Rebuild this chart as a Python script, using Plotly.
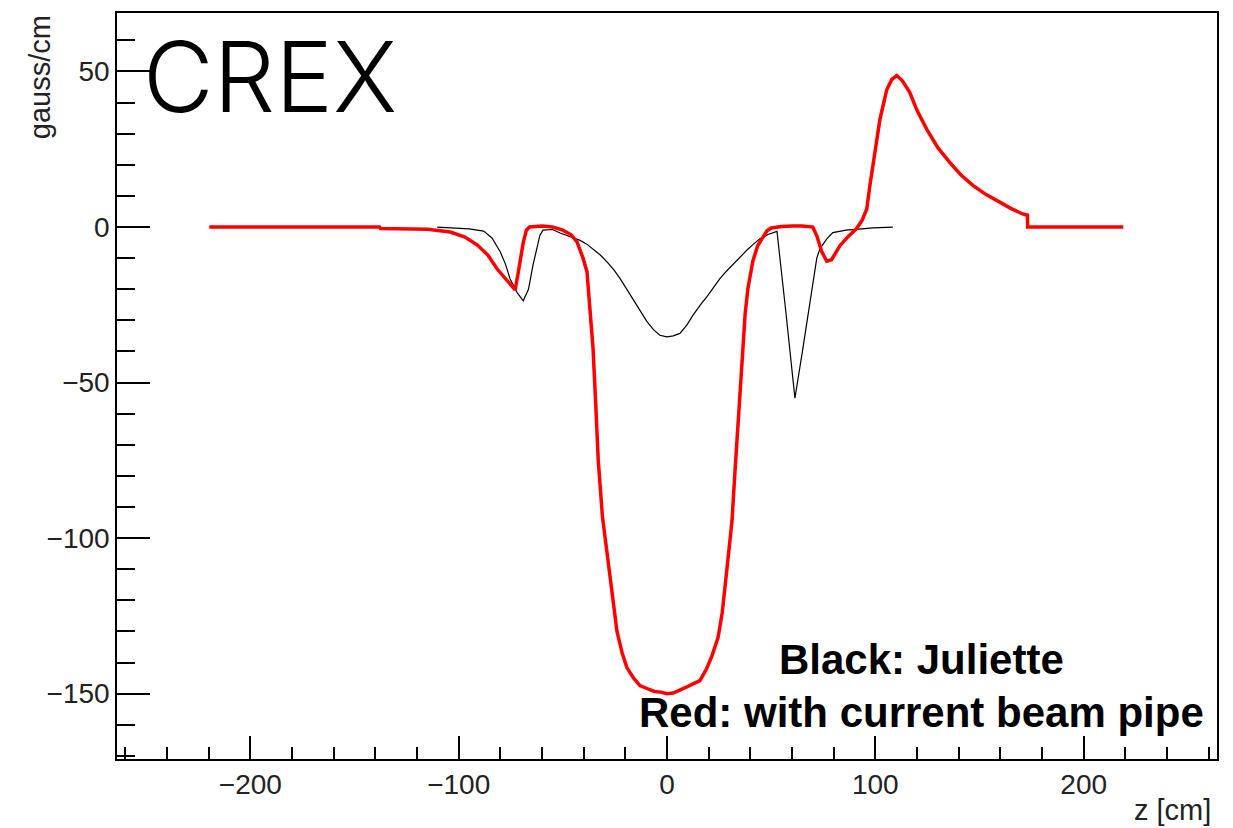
import plotly.graph_objects as go

# Red: with current beam pipe
red_z = [-219.7, -138, -137.5, -125, -115, -104, -97, -91, -86, -81.5, -77, -72.9, -71.5, -70, -69, -67.5, -66,
         -60, -55, -50, -46, -43.2, -40.3, -38.4, -37, -35.5, -34.2, -33, -31, -28.8, -26.5, -24, -21.5, -19.2,
         -16, -13, -9, -6, -3, 0, 3, 6, 9, 12, 15.8, 19, 21.5, 24.5, 26.5, 27.8, 29.5, 31.2, 32.5, 33.6, 35, 36,
         37.5, 38.8, 41.2, 43.5, 45.6, 48, 50, 55, 60, 65, 70, 72, 74.3, 76.7, 79, 83, 87, 91, 93.5, 95.9, 97.4,
         99.8, 102.2, 105.5, 108, 110.3, 113, 116.5, 120, 124.7, 130, 135.7, 141, 146.8, 153, 159.7, 165, 170.7,
         173, 173.1, 219]
red_b = [0, 0, -0.5, -0.5, -0.7, -1.6, -3.2, -5.8, -9, -13.5, -17, -20.2, -15, -9, -5, -1, 0,
         0.3, 0, -1, -2.5, -4.8, -10, -14.4, -25, -39, -57, -75, -93, -105, -117, -130, -137, -141.7,
         -145, -147.4, -148.5, -149.3, -149.5, -150, -149.8, -149, -148, -147, -145.8, -142, -138, -132, -124, -116,
         -106, -94.5, -80, -68, -52, -41, -28, -19.9, -11, -6, -3.8, -1.2, -0.3, 0.2, 0.3, 0.3, 0, -3, -8, -11,
         -10.5, -6, -3, -0.5, 2, 5.8, 13.4, 24, 34.6, 44.2, 47.5, 48.7, 47, 43.3, 37.5, 31.4, 25.5, 20.8, 16.8,
         13.4, 10.5, 8, 6, 4.2, 3.8, 0, 0]

# Black: Juliette
black_z = [-110.3, -100, -95, -88, -84, -80, -77.5, -75.3, -72, -69, -66.5, -64.3, -62.5, -61, -59.5, -55,
           -51.3, -48, -45, -41.7, -38.5, -35.5, -32, -28.8, -25.5, -22.5, -19.5, -16.3, -13, -9.6, -6.5, -3.4,
           0, 3, 6.2, 9.5, 12.5, 16, 19.2, 22.3, 25.4, 28.5, 31.7, 35, 38.4, 41.5, 44.6, 48.5, 52.8, 57, 61.4,
           65, 68.6, 71.9, 73.4, 76.7, 79.6, 81.5, 86, 92, 98.8, 108.4]
black_b = [0, -0.3, -0.6, -1.3, -3.5, -8, -12, -16.7, -21, -23.7, -20, -12.2, -6.5, -2.6, -1, -0.8,
           -1.9, -2.8, -3.5, -4.3, -5.5, -7, -9, -11.2, -13.8, -16.6, -19.8, -23, -26.8, -30.4, -33, -34.8,
           -35.3, -35, -34.2, -31.5, -28.3, -25, -22.4, -19.5, -16.6, -14.2, -11.9, -9.5, -7.4, -5.5, -3.8, -2.4,
           -1.4, -27, -55, -40, -25, -10, -7, -3.8, -1.8, -1.5, -1, -0.7, -0.3, 0]

x_ticks = [-200, -100, 0, 100, 200]
y_ticks = [-150, -100, -50, 0, 50]

FONT = "Liberation Sans, Arial, sans-serif"

fig = go.Figure()
fig.add_trace(go.Scatter(x=black_z, y=black_b, mode="lines",
                         line=dict(color="black", width=1.2), name="Juliette"))
fig.add_trace(go.Scatter(x=red_z, y=red_b, mode="lines",
                         line=dict(color="#ff0000", width=3.5), name="current beam pipe"))

# page body has an 8px margin, so the figure is sized/offset to compensate
fig.update_layout(
    width=1225, height=820,
    margin=dict(l=109, r=16, t=3, b=69),
    paper_bgcolor="white", plot_bgcolor="white",
    showlegend=False,
    font=dict(family=FONT, size=28, color="black"),
)
fig.update_xaxes(
    range=[-264, 264], tickvals=x_ticks, ticks="inside", ticklen=23, tickwidth=1.5,
    tickcolor="black", showline=True, linecolor="black", linewidth=1.5, mirror=True,
    showgrid=False, zeroline=False, tickfont=dict(size=28, color="#222"),
    minor=dict(ticks="inside", ticklen=12, dtick=20, tick0=0, tickcolor="black", tickwidth=1.5, showgrid=False),
)
fig.update_yaxes(
    range=[-171, 68.8], tickvals=y_ticks, ticks="inside", ticklen=33, tickwidth=1.5,
    tickcolor="black", showline=True, linecolor="black", linewidth=1.5, mirror=True,
    showgrid=False, zeroline=False, tickfont=dict(size=28, color="#222"),
    minor=dict(ticks="inside", ticklen=18, dtick=10, tick0=0, tickcolor="black", tickwidth=1.5, showgrid=False),
)

fig.add_annotation(text="gauss/cm", xref="paper", yref="paper", x=-0.07, y=0.914,
                   textangle=-90, showarrow=False, xanchor="center", yanchor="middle",
                   font=dict(family=FONT, size=29, color="#222"))
fig.add_annotation(text="z [cm]", xref="paper", yref="paper", x=0.9964, y=-0.068,
                   showarrow=False, xanchor="right", yanchor="middle",
                   font=dict(family=FONT, size=29, color="#222"))
fig.add_annotation(text="CREX", xref="paper", yref="paper", x=0.022, y=0.996,
                   showarrow=False, xanchor="left", yanchor="top",
                   font=dict(family="Inter, Roboto, sans-serif", size=97, color="black", weight=300))
fig.add_annotation(text="<b>Black: Juliette</b>", xref="paper", yref="paper", x=0.731, y=0.134,
                   showarrow=False, xanchor="center", yanchor="middle",
                   font=dict(family=FONT, size=42, color="black"))
fig.add_annotation(text="<b>Red: with current beam pipe</b>", xref="paper", yref="paper", x=0.731, y=0.063,
                   showarrow=False, xanchor="center", yanchor="middle",
                   font=dict(family=FONT, size=42, color="black"))

fig.write_html("out.html")
